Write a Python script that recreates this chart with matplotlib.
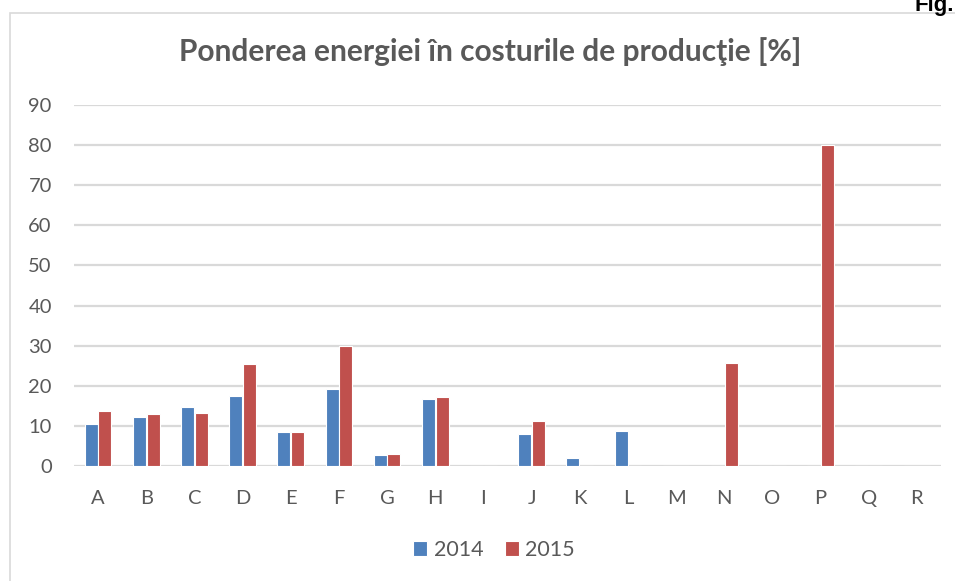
import matplotlib
matplotlib.use("Agg")
import matplotlib.pyplot as plt
import numpy as np
from matplotlib.patches import Rectangle

categories = ["A", "B", "C", "D", "E", "F", "G", "H", "I", "J", "K", "L", "M", "N", "O", "P", "Q", "R"]
values_2014 = [10.5, 12.3, 14.6, 17.5, 8.6, 19.1, 2.7, 16.8, 0, 8.1, 1.9, 8.7, 0, 0, 0, 0, 0, 0]
values_2015 = [13.6, 13.0, 13.1, 25.5, 8.4, 29.9, 2.9, 17.1, 0, 11.1, 0, 0, 0, 25.7, 0, 80.0, 0, 0]
series_names = ["2014", "2015"]
title = "Ponderea energiei în costurile de producţie [%]"

W, H = 955, 581
fig = plt.figure(figsize=(W / 100, H / 100), dpi=100)
fig.patch.set_facecolor("white")
plt.rcParams['font.family'] = ['Lato', 'DejaVu Sans']

TXT = "#595959"
BLUE = "#4F81BD"
RED = "#C0504D"
GRID = "#D9D9D9"

# outer chart border
fig.patches.append(Rectangle((10 / W, -0.05), 1.0, 1 - 13 / H + 0.05, transform=fig.transFigure,
                             fill=False, edgecolor="#D9D9D9", linewidth=1.2))
fig.text(954 / W, 1 - 5 / H, "Fig.", ha="right", va="center", fontsize=16, fontweight="bold",
         color="black", family=["Liberation Sans", "DejaVu Sans"])

ax_l, ax_r = 74 / W, 941 / W
ax_b, ax_t = 1 - 466 / H, 1 - 105 / H
ax = fig.add_axes([ax_l, ax_b, ax_r - ax_l, ax_t - ax_b])

x = np.arange(len(categories))
bw = 0.27
off = 0.142
ax.bar(x - off, values_2014, bw, color=BLUE, edgecolor="white", linewidth=0.8, label=series_names[0], zorder=3)
ax.bar(x + off, values_2015, bw, color=RED, edgecolor="white", linewidth=0.8, label=series_names[1], zorder=3)

ax.set_xlim(-0.5, len(categories) - 0.5)
ax.set_ylim(0, 90)
ax.set_yticks(np.arange(0, 91, 10))
ax.set_xticks(x)
ax.set_xticklabels(categories)
ax.yaxis.grid(True, color=GRID, linewidth=1.6, zorder=0)
ax.set_axisbelow(True)
for s in ax.spines.values():
    s.set_visible(False)
ax.tick_params(axis="both", length=0, labelsize=14.5, labelcolor=TXT)
ax.tick_params(axis="y", pad=16)
ax.tick_params(axis="x", pad=17)

fig.text(490 / W, 1 - 52 / H, title, ha="center", va="center", fontsize=21.5, fontweight="bold", color=TXT)

leg = fig.legend(loc="center", bbox_to_anchor=(494 / W, 1 - 550 / H), ncol=2, frameon=False,
                 fontsize=15.5, handlelength=0.65, handleheight=0.65, handletextpad=0.3, columnspacing=1.0)
for t in leg.get_texts():
    t.set_color(TXT)

fig.savefig("out.png", dpi=100)
